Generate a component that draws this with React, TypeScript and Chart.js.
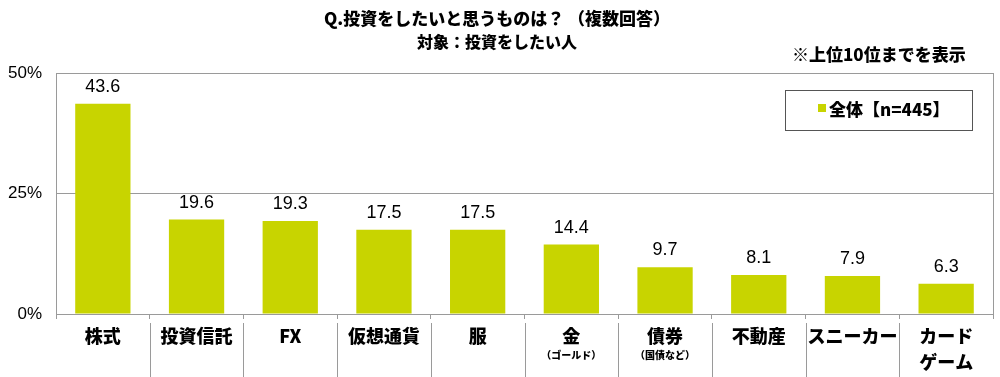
import React, { useEffect, useRef } from "react";
import { Chart, registerables } from "chart.js";

Chart.register(...registerables);

const titleLines = ["Q.投資をしたいと思うものは？ （複数回答）", "対象：投資をしたい人"];
const noteText = "※上位10位までを表示";
const legendLabel = "全体【n=445】";
const categories: (string | string[])[] = ["株式", "投資信託", "FX", "仮想通貨", "服", "金", "債券", "不動産", "スニーカー", ["カード", "ゲーム"]];
const subLabels = ["", "", "", "", "", "（ゴールド）", "（国債など）", "", "", ""];
const values = [43.6, 19.6, 19.3, 17.5, 17.5, 14.4, 9.7, 8.1, 7.9, 6.3];
const yMin = 0;
const yMax = 50;
const yStep = 25;

const BAR_COLOR = "#C8D400";
const GRID = "#9a9a9a";
const CJK = "'Noto Sans CJK JP', 'Noto Sans', sans-serif";
const NUM = "'Liberation Sans', Arial, sans-serif";

const overlayPlugin = {
  id: "overlay",
  afterDatasetsDraw(chart: any) {
    const ctx = chart.ctx;
    const area = chart.chartArea;
    const xs = chart.scales.x;
    ctx.save();
    // right frame
    ctx.strokeStyle = GRID;
    ctx.lineWidth = 1;
    ctx.beginPath();
    ctx.moveTo(Math.round(area.right) + 0.5, area.top);
    ctx.lineTo(Math.round(area.right) + 0.5, area.bottom);
    ctx.stroke();
    // separators between categories below axis
    for (let i = 1; i < categories.length; i++) {
      const x = Math.round(xs.getPixelForValue(i - 0.5)) + 0.5;
      ctx.beginPath();
      ctx.moveTo(x, area.bottom + 9);
      ctx.lineTo(x, chart.height);
      ctx.stroke();
    }
    // value labels
    const meta = chart.getDatasetMeta(0);
    ctx.fillStyle = "#000";
    ctx.font = `18px ${NUM}`;
    ctx.textAlign = "center";
    ctx.textBaseline = "alphabetic";
    meta.data.forEach((bar: any, i: number) => {
      ctx.fillText(values[i].toFixed(1), bar.x, bar.y - 12);
    });
    // sub labels
    ctx.font = `900 10px ${CJK}`;
    ctx.textBaseline = "middle";
    subLabels.forEach((s, i) => {
      if (!s) return;
      ctx.fillText(s, xs.getPixelForValue(i), area.bottom + 41);
    });
    // titles
    ctx.font = `900 17px ${CJK}`;
    ctx.fillText(titleLines[0], 497, 19);
    ctx.font = `900 16px ${CJK}`;
    ctx.fillText(titleLines[1], 497, 42);
    ctx.textAlign = "left";
    ctx.font = `900 17px ${CJK}`;
    ctx.fillText(noteText, 792, 55);
    // legend box
    ctx.fillStyle = "#fff";
    ctx.fillRect(785, 90, 187, 40);
    ctx.strokeStyle = "#555";
    ctx.strokeRect(785.5, 90.5, 187, 40);
    ctx.fillStyle = BAR_COLOR;
    ctx.fillRect(818, 104, 8, 8);
    ctx.fillStyle = "#000";
    ctx.font = `900 17px ${CJK}`;
    ctx.fillText(legendLabel, 829, 110);
    ctx.restore();
  },
};

export default function App() {
  const ref = useRef<HTMLCanvasElement>(null);
  useEffect(() => {
    if (!ref.current) return;
    const chart = new Chart(ref.current, {
      type: "bar",
      data: {
        labels: categories as any,
        datasets: [
          {
            label: legendLabel,
            data: values,
            backgroundColor: BAR_COLOR,
            borderWidth: 0,
            barPercentage: 0.59,
            categoryPercentage: 1,
          },
        ],
      },
      options: {
        responsive: false,
        animation: false,
        layout: { padding: { left: 0, right: 7, top: 73, bottom: 0 } },
        plugins: {
          legend: { display: false },
          title: { display: false },
          tooltip: { enabled: false },
        },
        scales: {
          x: {
            offset: true,
            grid: {
              offset: true,
              drawOnChartArea: false,
              drawTicks: true,
              tickLength: 5,
              color: GRID,
            },
            border: { color: GRID },
            ticks: {
              autoSkip: false,
              maxRotation: 0,
              padding: 4,
              color: "#000",
              font: { family: CJK, size: 18, weight: "900", lineHeight: 1.45 },
            },
            afterFit: (s: any) => {
              s.height = 63;
            },
          },
          y: {
            min: yMin,
            max: yMax,
            ticks: {
              stepSize: yStep,
              padding: 14,
              color: "#000",
              font: { family: NUM, size: 17 },
              callback: (v: any) => `${v}%`,
            },
            grid: { color: GRID, drawTicks: false },
            border: { color: GRID },
            afterFit: (s: any) => {
              s.width = 56;
            },
          },
        },
      },
      plugins: [overlayPlugin],
    });
    return () => chart.destroy();
  }, []);
  return (
    <div style={{ position: "fixed", left: 0, top: 0, width: 1000, height: 377, background: "#fff" }}>
      <canvas ref={ref} width={1000} height={377} style={{ display: "block" }} />
    </div>
  );
}
